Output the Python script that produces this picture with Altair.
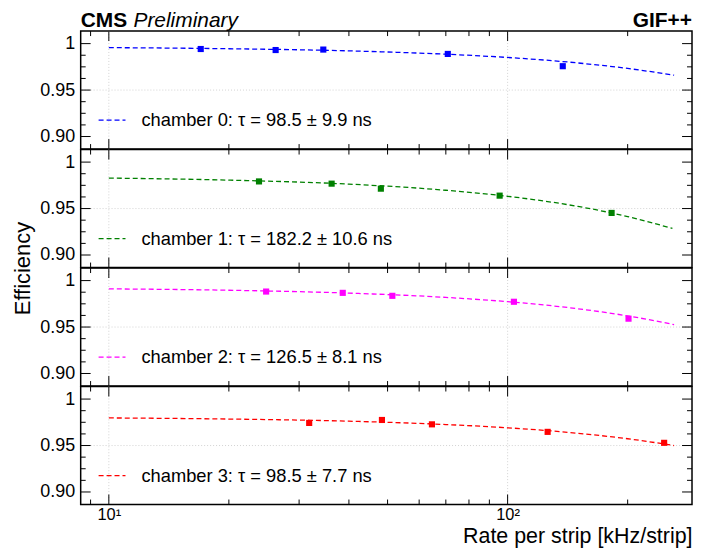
import altair as alt
import pandas as pd

# ---------------- data ----------------
chambers = ["chamber 0", "chamber 1", "chamber 2", "chamber 3"]
colors = ["#0000ff", "#008000", "#ff00ff", "#ff0000"]
tau_labels = ["98.5 ± 9.9", "182.2 ± 10.6", "126.5 ± 8.1", "98.5 ± 7.7"]

rate_c0 = [17.0, 26.2, 34.5, 70.8, 137.5]
eff_c0 = [0.9942, 0.9931, 0.9936, 0.9889, 0.9757]
rate_c1 = [23.8, 36.2, 48.1, 95.5, 182.3]
eff_c1 = [0.9792, 0.9768, 0.9714, 0.9639, 0.9453]
rate_c2 = [24.8, 38.6, 51.4, 103.7, 201.0]
eff_c2 = [0.9882, 0.9868, 0.9836, 0.9772, 0.9590]
rate_c3 = [31.8, 48.4, 64.6, 126.0, 246.9]
eff_c3 = [0.9743, 0.9775, 0.9728, 0.9647, 0.9529]

fit_rate_c0 = [10, 20, 40, 70, 100, 150, 200, 261.5]
fit_eff_c0 = [0.9957, 0.9945, 0.9922, 0.9886, 0.9851, 0.9792, 0.9733, 0.9660]
fit_rate_c1 = [10, 20, 40, 70, 100, 150, 200, 259]
fit_eff_c1 = [0.9828, 0.9806, 0.9763, 0.9697, 0.9632, 0.9523, 0.9414, 0.9286]
fit_rate_c2 = [10, 20, 40, 70, 100, 150, 200, 261.5]
fit_eff_c2 = [0.9911, 0.9896, 0.9865, 0.9819, 0.9773, 0.9697, 0.9620, 0.9526]
fit_rate_c3 = [10, 20, 40, 70, 100, 150, 200, 261.5]
fit_eff_c3 = [0.9797, 0.9785, 0.9762, 0.9726, 0.9691, 0.9632, 0.9573, 0.9500]

x_major = [10, 100]
x_minor = [9, 20, 30, 40, 50, 60, 70, 80, 90, 200]
y_major = [0.90, 0.95, 1.0]
y_minor = [0.9125, 0.925, 0.9375, 0.9625, 0.975, 0.9875]
x_grid = [10, 100]
y_grid = [0.95]

points = [(rate_c0, eff_c0), (rate_c1, eff_c1), (rate_c2, eff_c2), (rate_c3, eff_c3)]
fits = [(fit_rate_c0, fit_eff_c0), (fit_rate_c1, fit_eff_c1),
        (fit_rate_c2, fit_eff_c2), (fit_rate_c3, fit_eff_c3)]

# ---------------- layout ----------------
W, H = 614, 118.5
FONT = "Liberation Sans"
xscale = alt.Scale(type="log", domain=[8.5, 290], nice=False)
yscale = alt.Scale(domain=[0.8865, 1.0135], nice=False, zero=False)


def make_panel(i):
    last = i == 3
    if last:
        xaxis = alt.Axis(values=x_major, labelExpr="datum.value == 10 ? '10¹' : '10²'",
                         ticks=False, domain=False, grid=False, labelFontSize=16.5,
                         labelPadding=2, title="Rate per strip [kHz/strip]",
                         titleFontSize=21.5, titleFontWeight="normal",
                         titleX=W, titleY=38, titleAlign="right", titleBaseline="alphabetic")
    else:
        xaxis = None
    ytitle = "Efficiency" if i == 2 else None
    if ytitle:
        yaxis = alt.Axis(values=y_major,
                         labelExpr="datum.value == 1 ? '1' : format(datum.value, '.2f')",
                         ticks=False, domain=False, grid=False, labelFontSize=18,
                         labelPadding=6, title=ytitle, titleFontSize=22,
                         titleFontWeight="normal", titleX=-58, titleY=0,
                         titleAlign="center", titleBaseline="middle", titleAngle=270)
    else:
        yaxis = alt.Axis(values=y_major,
                         labelExpr="datum.value == 1 ? '1' : format(datum.value, '.2f')",
                         ticks=False, domain=False, grid=False, labelFontSize=18,
                         labelPadding=6, title=None)

    X = lambda: alt.X("rate:Q", scale=xscale, axis=xaxis)
    Y = lambda: alt.Y("eff:Q", scale=yscale, axis=yaxis)

    layers = []
    # grid lines
    gx = alt.Chart(pd.DataFrame({"rate": x_grid})).mark_rule(
        color="#c8c8c8", strokeWidth=0.8, strokeDash=[1, 2]).encode(x=X())
    gy = alt.Chart(pd.DataFrame({"eff": y_grid})).mark_rule(
        color="#c8c8c8", strokeWidth=0.8, strokeDash=[1, 2]).encode(y=Y())
    layers += [gx, gy]
    # inward ticks
    for vals, L in ((x_major, 10), (x_minor, 5)):
        base = alt.Chart(pd.DataFrame({"rate": vals})).mark_rule(color="black", strokeWidth=1)
        layers.append(base.encode(x=X(), y=alt.value(0), y2=alt.value(L)))
        layers.append(base.encode(x=X(), y=alt.value(H), y2=alt.value(H - L)))
    for vals, L in ((y_major, 10), (y_minor, 5)):
        base = alt.Chart(pd.DataFrame({"eff": vals})).mark_rule(color="black", strokeWidth=1)
        layers.append(base.encode(y=Y(), x=alt.value(0), x2=alt.value(L)))
        layers.append(base.encode(y=Y(), x=alt.value(W), x2=alt.value(W - L)))

    fr, fe = fits[i]
    fit = alt.Chart(pd.DataFrame({"rate": fr, "eff": fe})).mark_line(
        color=colors[i], strokeWidth=1.3, strokeDash=[5, 3], interpolate="monotone"
    ).encode(x=X(), y=Y())
    pr, pe = points[i]
    pts = alt.Chart(pd.DataFrame({"rate": pr, "eff": pe})).mark_square(
        color=colors[i], size=38, opacity=1).encode(x=X(), y=Y())
    layers += [fit, pts]

    # legend entry
    one = pd.DataFrame({"label": [f"{chambers[i]}: τ = {tau_labels[i]} ns"]})
    leg_line = alt.Chart(one).mark_rule(color=colors[i], strokeWidth=1.3, strokeDash=[5, 3]).encode(
        x=alt.value(18), x2=alt.value(45), y=alt.value(89.5))
    leg_text = alt.Chart(one).mark_text(
        align="left", baseline="middle", fontSize=18.4, font=FONT, color="black").encode(
        x=alt.value(61), y=alt.value(89.5), text="label:N")
    layers += [leg_line, leg_text]

    if i == 0:
        hdr = pd.DataFrame({"a": ["CMS"], "b": ["Preliminary"], "c": ["GIF++"]})
        layers.append(alt.Chart(hdr).mark_text(
            align="left", baseline="alphabetic", fontSize=21, fontWeight="bold", font=FONT,
            color="black").encode(x=alt.value(0), y=alt.value(-4), text="a:N"))
        layers.append(alt.Chart(hdr).mark_text(
            align="left", baseline="alphabetic", fontSize=21, fontStyle="italic", font=FONT,
            color="black").encode(x=alt.value(53), y=alt.value(-4), text="b:N"))
        layers.append(alt.Chart(hdr).mark_text(
            align="right", baseline="alphabetic", fontSize=21, fontWeight="bold", font=FONT,
            color="black").encode(x=alt.value(W), y=alt.value(-4), text="c:N"))

    return alt.layer(*layers).properties(width=W, height=H)


chart = alt.vconcat(*[make_panel(i) for i in range(4)], spacing=0, bounds="flush").properties(
    padding={"left": 3, "top": 0, "right": 0, "bottom": 0}
).configure_view(stroke="black", strokeWidth=1.5).configure_axis(
    labelFont=FONT, titleFont=FONT, labelColor="black", titleColor="black"
).configure_concat(spacing=0)

chart.save("out.html", embed_options={"renderer": "svg", "actions": False})
